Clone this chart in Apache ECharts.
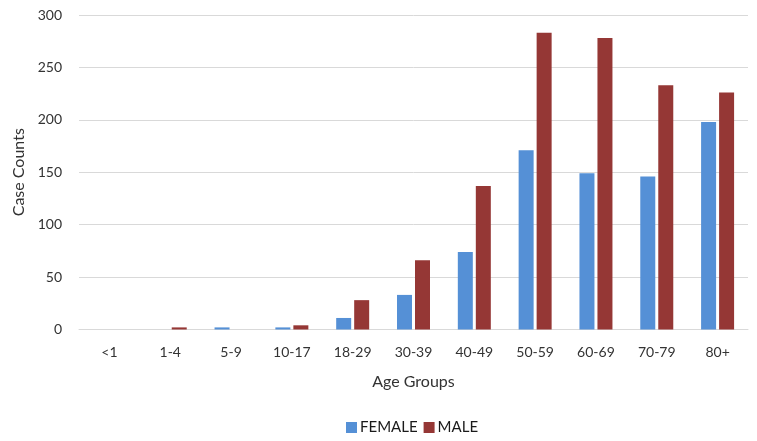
<!DOCTYPE html>
<html>
<head>
<meta charset="utf-8">
<script src="https://cdn.jsdelivr.net/npm/echarts@6/dist/echarts.min.js"></script>
<style>
  html, body { margin: 0; padding: 0; background: #fff; }
  #container { width: 757px; height: 441px; }
</style>
</head>
<body>
<div id="container"></div>
<script>
var ageGroups = ['<1', '1-4', '5-9', '10-17', '18-29', '30-39', '40-49', '50-59', '60-69', '70-79', '80+'];
var female = [0, 0, 2, 2, 11, 33, 74, 171, 149, 146, 198];
var male = [0, 2, 0, 4, 28, 66, 137, 283, 278, 233, 226];
var yTicks = [0, 50, 100, 150, 200, 250, 300];

var dom = document.getElementById('container');
var myChart = echarts.init(dom);
var fontName = 'Lato';

var option = {
    textStyle: { fontFamily: fontName },
    legend: {
        bottom: 1,
        left: 341,
        itemWidth: 11,
        itemHeight: 11,
        itemGap: 6,
        icon: 'rect',
        textStyle: { fontSize: 15, color: '#1a1a1a', fontFamily: fontName, padding: [0, 0, 0, -2] }
    },
    grid: { left: 79, right: 9, top: 15, bottom: 111.5 },
    xAxis: {
        type: 'category',
        data: ageGroups,
        name: 'Age Groups',
        nameLocation: 'middle',
        nameGap: 44,
        nameTextStyle: { fontSize: 16, color: '#333', fontFamily: fontName },
        axisLine: { lineStyle: { color: '#d9d9d9', width: 1 } },
        axisTick: { show: false },
        axisLabel: { fontSize: 14, color: '#333', margin: 16, fontFamily: fontName }
    },
    yAxis: {
        type: 'value',
        min: yTicks[0],
        max: yTicks[yTicks.length - 1],
        interval: 50,
        name: 'Case Counts',
        nameLocation: 'middle',
        nameGap: 52,
        nameTextStyle: { fontSize: 16, color: '#333', fontFamily: fontName },
        axisLine: { show: false },
        axisTick: { show: false },
        axisLabel: { fontSize: 14, color: '#333', margin: 17, fontFamily: fontName },
        splitLine: { lineStyle: { color: '#d9d9d9', width: 1 } }
    },
    series: [
        {
            name: 'FEMALE',
            type: 'bar',
            data: female,
            barWidth: 15,
            barGap: '20%',
            itemStyle: { color: '#5590d6' }
        },
        {
            name: 'MALE',
            type: 'bar',
            data: male,
            barWidth: 15,
            barGap: '20%',
            itemStyle: { color: '#953735' }
        }
    ]
};

myChart.setOption(option);
window.addEventListener('resize', myChart.resize);
</script>
</body>
</html>
